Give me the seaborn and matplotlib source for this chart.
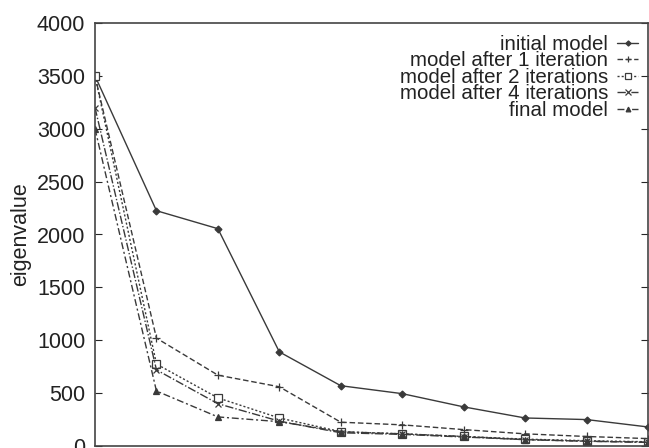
import numpy as np
import pandas as pd
import matplotlib
matplotlib.use("Agg")
import matplotlib.pyplot as plt
import seaborn as sns

# eigenvalue index (1..10)
index = [1, 2, 3, 4, 5, 6, 7, 8, 9, 10]

initial_model = [3500, 2225, 2055, 890, 570, 495, 370, 265, 250, 180]
after_1_iter = [3500, 1020, 670, 560, 225, 200, 155, 115, 90, 70]
after_2_iter = [3500, 775, 455, 265, 135, 115, 90, 65, 50, 40]
after_4_iter = [3200, 720, 400, 235, 125, 110, 85, 60, 45, 35]
final_model = [3000, 520, 275, 230, 135, 115, 90, 60, 45, 35]

labels = ["initial model", "model after 1 iteration", "model after 2 iterations",
          "model after 4 iterations", "final model"]
series = [initial_model, after_1_iter, after_2_iter, after_4_iter, final_model]

df = pd.concat([
    pd.DataFrame({"index": index, "eigenvalue": vals, "model": lab})
    for lab, vals in zip(labels, series)
])

sns.set_theme(style="white")
plt.rcParams["font.family"] = ["Liberation Sans", "DejaVu Sans"]

fig = plt.figure(figsize=(6.49, 4.48), dpi=100)
ax = fig.add_axes([95 / 649, 2 / 448, 553 / 649, 423 / 448])

ink = "#3a3a3a"
styles = {
    "initial model": dict(ls="-", marker="D", ms=3.5, mfc=ink),
    "model after 1 iteration": dict(ls=(0, (4, 2)), marker="+", ms=6, mfc=ink),
    "model after 2 iterations": dict(ls=(0, (1.5, 1.5)), marker="s", ms=5.5, mfc="white"),
    "model after 4 iterations": dict(ls=(0, (6, 1.5, 1, 1.5)), marker="x", ms=5, mfc=ink),
    "final model": dict(ls=(0, (5, 2, 1.5, 2)), marker="^", ms=4.5, mfc=ink),
}

for lab in labels:
    st = styles[lab]
    sns.lineplot(data=df[df["model"] == lab], x="index", y="eigenvalue", ax=ax,
                 color=ink, lw=1.0, linestyle=st["ls"], marker=st["marker"],
                 markersize=st["ms"], markerfacecolor=st["mfc"],
                 markeredgecolor=ink, markeredgewidth=0.9, label=lab)

ax.set_xlim(1, 10)
ax.set_ylim(0, 4000)
ax.set_yticks(np.arange(0, 4001, 500))
ax.set_xticks(index)
ax.set_xticklabels([])
ax.set_xlabel("")
ax.set_ylabel("eigenvalue", fontsize=15.5, color="#222222", labelpad=4)
ax.tick_params(axis="y", labelsize=15.5, labelcolor="#222222", direction="in",
               length=5, width=0.8, right=True, left=True, pad=7)
ax.tick_params(axis="x", direction="in", length=0, bottom=True, top=False)
for s in ax.spines.values():
    s.set_color("#444444")
    s.set_linewidth(1.2)

leg = ax.legend(loc="upper right", bbox_to_anchor=(0.982, 0.972), frameon=False,
                markerfirst=False, fontsize=14.8, handlelength=1.0, markerscale=0.75,
                labelspacing=-0.12, handletextpad=0.45, borderaxespad=0.0,
                borderpad=0.0)
for t in leg.get_texts():
    t.set_color("#222222")
    t.set_ha("right")
leg._legend_box.align = "right"

fig.savefig("out.png", dpi=100)
